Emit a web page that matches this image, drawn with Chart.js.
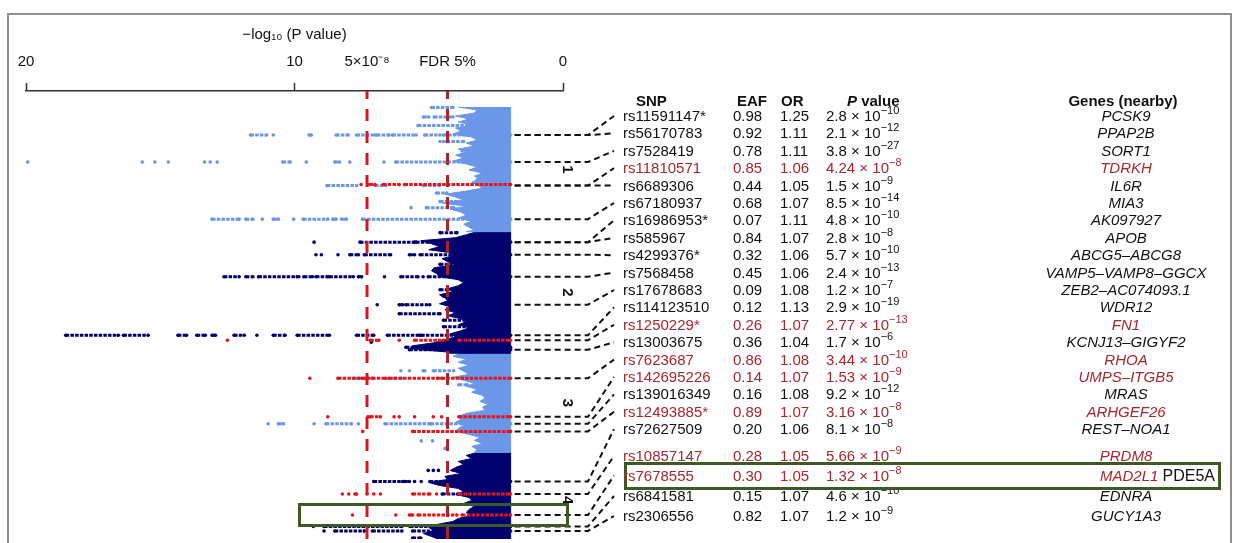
<!DOCTYPE html>
<html>
<head>
<meta charset="utf-8">
<script src="https://cdn.jsdelivr.net/npm/chart.js@4.4.1/dist/chart.umd.min.js"></script>
<style>
  html, body { margin: 0; padding: 0; background: #fff; }
  #wrap { position: relative; width: 1234px; height: 543px; overflow: hidden; font-family: "Liberation Sans", Arial, Helvetica, sans-serif; color: #111; }
  #frame { position: absolute; left: 7px; top: 13px; width: 1225px; height: 600px; border: 2px solid #8f8f8f; box-sizing: border-box; }
  #plot { position: absolute; left: 0; top: 0; }
  .cell { position: absolute; height: 18px; line-height: 18px; font-size: 15px; white-space: nowrap; }
  .head { font-weight: bold; }
  .gene { font-style: italic; text-align: center; width: 220px; }
  .novel { color: #a8282e; }
  sup { font-size: 11px; line-height: 0; position: relative; top: -1px; }
  .box { position: absolute; border: 3px solid #3d5a25; box-sizing: border-box; }
  #boxRight { background: #fff; z-index: 2; }
  .top { z-index: 3; }
</style>
</head>
<body>
<div id="wrap">
  <div id="frame"></div>
  <canvas id="plot" width="1234" height="543"></canvas>
  <div id="table"></div>
  <div class="box" id="boxLeft" style="left:298px; top:503px; width:271px; height:24px;"></div>
  <div class="box" id="boxRight" style="left:624px; top:462px; width:597px; height:28px;"></div>
</div>
<script>
// x axis: -log10(P), y axis: cumulative genome position (Mb)
const xTicks = [20, 10, 7.3, 4.3, 0];
const gwsLine = 7.3;   // 5x10-8
const fdrLine = 4.3;   // FDR 5%
const minLogP = 1.95;

const chromLabels = ["1", "2", "3", "4"];
const chromStart = [0, 249, 492, 690];
const chromEnd = [249, 492, 690, 881];

// ragged left edge of the dense cloud, [Mb, -log10 P]
const chr1Edge = [[0, 3.9], [6, 3.2], [12, 3.3], [18, 4.0], [24, 3.5], [30, 3.9], [36, 3.4], [42, 4.0], [48, 3.8], [54, 4.1],
  [60, 3.4], [66, 3.2], [72, 3.6], [78, 3.3], [84, 3.9], [90, 3.6], [96, 4.0], [102, 3.7], [108, 4.1], [114, 3.6],
  [120, 3.2], [126, 3.5], [132, 3.0], [138, 3.3], [144, 3.1], [150, 3.4], [156, 3.2], [162, 3.0], [168, 3.6], [174, 4.4],
  [180, 4.0], [186, 3.7], [192, 4.5], [198, 3.6], [204, 4.2], [210, 3.8], [216, 3.6], [222, 3.9], [228, 3.4], [234, 3.7],
  [240, 3.5], [246, 3.3], [249, 3.6]];
const chr2Edge = [[249, 3.2], [255, 3.6], [261, 4.0], [267, 5.3], [273, 4.9], [279, 4.6], [285, 5.0], [291, 4.2], [297, 4.1],
  [303, 4.5], [309, 4.3], [315, 4.0], [321, 4.8], [327, 4.9], [333, 4.7], [339, 4.6], [345, 3.9], [351, 3.7], [357, 3.9],
  [363, 4.3], [369, 4.1], [375, 4.6], [381, 4.4], [387, 4.3], [393, 4.6], [399, 4.2], [405, 4.4], [411, 4.0], [417, 4.3],
  [423, 3.8], [429, 3.6], [435, 3.9], [441, 3.5], [447, 3.8], [453, 4.2], [459, 4.0], [465, 4.4], [471, 4.8], [477, 5.6],
  [483, 5.7], [489, 4.4], [492, 4.2]];
const chr3Edge = [[492, 3.8], [498, 4.1], [504, 3.6], [510, 3.9], [516, 3.5], [522, 3.9], [528, 3.7], [534, 3.5], [540, 4.1],
  [546, 3.7], [552, 3.3], [558, 3.6], [564, 3.2], [570, 3.4], [576, 3.0], [582, 2.9], [588, 3.1], [594, 2.8], [600, 3.0],
  [606, 2.9], [612, 3.6], [618, 3.9], [624, 3.8], [630, 4.0], [636, 3.7], [642, 3.9], [648, 4.0], [654, 3.5], [660, 3.1],
  [666, 3.3], [672, 3.0], [678, 3.4], [684, 3.2], [690, 3.3]];
const chr4Edge = [[690, 3.2], [696, 3.6], [702, 3.4], [708, 3.9], [714, 3.7], [720, 4.0], [726, 4.2], [732, 3.8], [738, 4.4],
  [744, 4.3], [750, 5.0], [756, 4.6], [762, 3.9], [768, 3.7], [774, 4.0], [780, 3.5], [786, 3.4], [792, 3.7], [798, 3.3],
  [804, 3.5], [810, 3.6], [816, 3.4], [822, 3.9], [828, 4.1], [834, 4.7], [840, 5.0], [846, 4.8], [852, 5.2], [858, 4.9],
  [864, 4.6], [870, 4.5], [881, 4.4]];

// rows of SNPs leaving the cloud: [Mb, runs of -log10 P]
const lightStreaks = [
  [1, [[4.9, 4.1]]],
  [20, [[5.2, 5.0], [4.8, 4.1]]],
  [37, [[5.4, 2.9]]],
  [56, [[11.64, 11.04], [10.79], [9.46, 9.37], [8.45, 8.0], [7.69, 6.99], [6.93, 6.48], [6.35, 5.47], [5.15, 4.58], [4.45, 1.95]]],
  [69, [[4.58], [4.45], [4.33, 3.7]]],
  [88, [[3.76]]],
  [110, [[19.94], [15.67], [15.2], [14.7], [13.35], [13.14], [12.88], [10.44, 10.16], [9.56], [8.5, 8.32], [7.94], [6.67], [6.23, 1.95]]],
  [146, [[3.2, 2.8]]],
  [157, [[8.79, 7.68], [7.0, 6.6], [5.2, 4.6]]],
  [172, [[4.71, 4.33]]],
  [189, [[4.58, 3.82]]],
  [201, [[5.66], [5.09, 4.07]]],
  [224, [[13.07, 12.06], [11.81, 11.55], [11.2], [10.79, 10.6], [10.03], [9.68, 8.76], [8.57, 8.45], [8.25, 8.07], [7.47, 1.95]]],
  [527, [[6.04], [5.72], [5.21, 5.15], [4.83, 4.07]]],
  [542, [[7.8, 7.6], [6.3, 6.0]]],
  [555, [[3.88, 3.57]]],
  [633, [[10.98], [10.6, 10.41], [9.27], [8.83, 7.88], [7.62], [6.63, 4.96], [4.93, 1.95]]],
  [667, [[5.28], [4.86]]],
  [682, [[4.39]]]
];
const navyStreaks = [
  [251, [[4.58, 3.95]]],
  [270, [[9.27], [7.56, 5.53], [5.47, 1.95]]],
  [295, [[9.2], [9.0], [8.38], [7.94, 7.62], [7.4, 6.42], [5.72, 5.53], [5.32, 1.95]]],
  [314, [[4.58, 3.95]]],
  [339, [[12.63, 12.06], [11.81, 11.55], [11.34, 9.9], [9.84], [9.65, 9.33], [9.2, 8.76], [8.7, 7.81], [7.62, 7.5], [6.65], [6.04, 5.4], [5.21], [5.02, 1.95]]],
  [365, [[4.58, 3.7]]],
  [378, [[4.45, 3.3]]],
  [395, [[6.92], [6.1, 5.97], [5.85, 4.96]]],
  [413, [[6.1, 4.58]]],
  [426, [[4.45, 3.4]]],
  [439, [[4.45, 3.19]]],
  [456, [[18.52, 16.56], [16.37, 15.45], [14.34, 14.02], [13.64, 13.32], [13.07, 12.94], [12.25, 11.87], [11.4], [10.79, 10.35], [9.9, 8.7], [7.69, 7.05], [6.54, 5.34], [5.28, 1.95]]],
  [470, [[7.14]]],
  [480, [[5.85, 1.95]]],
  [485, [[5.72, 1.95]]],
  [726, [[5.02], [4.83], [4.64], [4.07, 3.95]]],
  [748, [[7.05, 5.97], [5.91, 5.72], [5.53], [5.28], [4.96, 1.95]]],
  [773, [[4.5, 3.9]]],
  [838, [[9.3], [8.9, 6.0], [5.7, 1.95]]],
  [847, [[8.9], [8.5, 7.4], [7.1, 6.0], [5.6, 1.95]]],
  [861, [[5.6, 5.3], [4.6, 3.3]]]
];
const redStreaks = [
  [155, [[7.52], [7.2, 7.0], [6.7, 6.1], [5.9, 1.95]]],
  [466, [[12.5], [7.18, 6.86], [6.1], [5.53, 4.45], [3.88, 1.95]]],
  [542, [[9.43], [8.38, 7.49], [7.43, 7.24], [7.11, 6.6], [6.48, 4.64], [4.52, 1.95]]],
  [619, [[8.76], [7.27], [7.18, 6.8], [6.29], [6.1], [5.53], [4.83], [4.52], [3.88, 1.95]]],
  [648, [[7.46], [5.6, 1.95]]],
  [773, [[8.22], [7.98], [7.75, 7.69], [7.3], [7.05], [6.8], [5.6, 4.96], [4.71], [3.88, 1.95]]],
  [815, [[7.84], [6.23], [5.72, 5.6], [5.4, 3.95], [3.76, 1.95]]]
];

// table
const snpIds = ["rs11591147*", "rs56170783", "rs7528419", "rs11810571", "rs6689306", "rs67180937", "rs16986953*", "rs585967",
  "rs4299376*", "rs7568458", "rs17678683", "rs114123510", "rs1250229*", "rs13003675", "rs7623687", "rs142695226",
  "rs139016349", "rs12493885*", "rs72627509", "rs10857147", "rs7678555", "rs6841581", "rs2306556"];
const eafValues = ["0.98", "0.92", "0.78", "0.85", "0.44", "0.68", "0.07", "0.84", "0.32", "0.45", "0.09", "0.12", "0.26",
  "0.36", "0.86", "0.14", "0.16", "0.89", "0.20", "0.28", "0.30", "0.15", "0.82"];
const orValues = ["1.25", "1.11", "1.11", "1.06", "1.05", "1.07", "1.11", "1.07", "1.06", "1.06", "1.08", "1.13", "1.07",
  "1.04", "1.08", "1.07", "1.08", "1.07", "1.06", "1.05", "1.05", "1.07", "1.07"];
const pMantissa = ["2.8", "2.1", "3.8", "4.24", "1.5", "8.5", "4.8", "2.8", "5.7", "2.4", "1.2", "2.9", "2.77", "1.7",
  "3.44", "1.53", "9.2", "3.16", "8.1", "5.66", "1.32", "4.6", "1.2"];
const pExponent = [-10, -12, -27, -8, -9, -14, -10, -8, -10, -13, -7, -19, -13, -6, -10, -9, -12, -8, -8, -9, -8, -10, -9];
const geneNames = ["PCSK9", "PPAP2B", "SORT1", "TDRKH", "IL6R", "MIA3", "AK097927", "APOB", "ABCG5–ABCG8",
  "VAMP5–VAMP8–GGCX", "ZEB2–AC074093.1", "WDR12", "FN1", "KCNJ13–GIGYF2", "RHOA", "UMPS–ITGB5", "MRAS", "ARHGEF26",
  "REST–NOA1", "PRDM8", "MAD2L1", "EDNRA", "GUCY1A3"];
const novelLocus = [0, 0, 0, 1, 0, 0, 0, 0, 0, 0, 0, 0, 1, 0, 1, 1, 0, 1, 0, 1, 1, 0, 0];
const locusMb = [56, 56, 110, 157, 157, 224, 270, 270, 295, 339, 395, 456, 466, 485, 542, 619, 633, 648, 748, 773, 815, 838, 847];
const boxedRow = 20;

const LIGHT = "#6b97e8";
const NAVY = "#00006e";
const RED = "#e6141b";
const FONT = "'Liberation Sans', Arial, sans-serif";

function rowCenter(i) {
  if (i < 19) return 116 + i * 17.4;
  return [456, 475.5, 496, 516][i - 19];
}

function edgePolygon(edge) {
  const pts = edge.map(([mb, v]) => ({ x: v, y: mb }));
  pts.push({ x: minLogP, y: edge[edge.length - 1][0] });
  pts.push({ x: minLogP, y: edge[0][0] });
  return pts;
}

function streakPoints(streaks) {
  const pts = [];
  streaks.forEach(([mb, runs]) => {
    runs.forEach((run) => {
      run.forEach((v) => pts.push({ x: v, y: mb }));
      pts.push({ x: null, y: null });
    });
  });
  return pts;
}

function blobDataset(edge, color) {
  return {
    data: edgePolygon(edge),
    borderColor: color,
    backgroundColor: color,
    borderWidth: 1,
    pointRadius: 0,
    fill: "shape",
    tension: 0,
    order: 4
  };
}

function streakDataset(streaks, color, order) {
  return {
    data: streakPoints(streaks),
    borderColor: color,
    backgroundColor: color,
    borderWidth: 3,
    borderDash: [3.5, 1.2],
    pointRadius: 1.8,
    pointBorderWidth: 0,
    pointBackgroundColor: color,
    spanGaps: false,
    fill: false,
    order
  };
}

function thresholdDataset(value, color) {
  return {
    data: [{ x: value, y: -40 }, { x: value, y: 900 }],
    borderColor: color,
    borderWidth: 3,
    borderDash: [12, 10],
    pointRadius: 0,
    fill: false,
    order: 0
  };
}

const connectorPlugin = {
  id: "connectors",
  afterDraw(chart) {
    const { ctx, scales: { x, y } } = chart;
    const x0 = x.getPixelForValue(minLogP) + 4;
    ctx.save();
    ctx.strokeStyle = "#111";
    ctx.lineWidth = 2;
    ctx.setLineDash([6, 4]);
    locusMb.forEach((mb, i) => {
      const py = y.getPixelForValue(mb);
      ctx.beginPath();
      ctx.moveTo(x0, py);
      ctx.lineTo(588, py);
      ctx.lineTo(614, rowCenter(i));
      ctx.stroke();
    });
    ctx.setLineDash([]);
    ctx.fillStyle = "#111";
    ctx.font = "bold 15px " + FONT;
    ctx.textAlign = "center";
    ctx.textBaseline = "middle";
    chromLabels.forEach((label, i) => {
      const my = y.getPixelForValue((chromStart[i] + chromEnd[i]) / 2);
      ctx.save();
      ctx.translate(567, my);
      ctx.rotate(Math.PI / 2);
      ctx.fillText(label, 0, 0);
      ctx.restore();
    });
    ctx.restore();
  }
};

new Chart(document.getElementById("plot"), {
  type: "scatter",
  data: {
    datasets: [
      thresholdDataset(gwsLine, "#d8181f"),
      thresholdDataset(fdrLine, "#a8262b"),
      streakDataset(redStreaks, RED, 1),
      streakDataset(lightStreaks, LIGHT, 2),
      streakDataset(navyStreaks, NAVY, 2),
      blobDataset(chr1Edge, LIGHT),
      blobDataset(chr2Edge, NAVY),
      blobDataset(chr3Edge, LIGHT),
      blobDataset(chr4Edge, NAVY)
    ].map((ds) => ({ ...ds, showLine: true }))
  },
  options: {
    responsive: false,
    animation: false,
    events: [],
    layout: { padding: { left: 26, right: 671, top: 23, bottom: 0 } },
    plugins: { legend: { display: false }, tooltip: { enabled: false } },
    scales: {
      x: {
        type: "linear",
        position: "top",
        reverse: true,
        min: 0,
        max: 20,
        afterBuildTicks: (axis) => {
          axis.ticks = xTicks.map((value) => ({ value }));
        },
        ticks: {
          autoSkip: false,
          maxRotation: 0,
          padding: 12,
          color: "#111",
          font: { family: FONT, size: 15 },
          callback: (value) => {
            if (value === gwsLine) return "5×10⁻⁸";
            if (value === fdrLine) return "FDR 5%";
            return String(value);
          }
        },
        grid: {
          drawOnChartArea: false,
          drawTicks: true,
          tickLength: 8,
          tickWidth: 1.5,
          tickColor: (ctx) => ([20, 10, 0].includes(ctx.tick && ctx.tick.value) ? "#333" : "rgba(0,0,0,0)")
        },
        border: { display: true, color: "#333", width: 1.5 },
        title: {
          display: true,
          text: "−log₁₀ (P value)",
          color: "#111",
          font: { family: FONT, size: 15, lineHeight: 0.8 },
          padding: { top: 6, bottom: 0 }
        }
      },
      y: {
        type: "linear",
        display: false,
        reverse: true,
        min: -32,
        max: 863
      }
    }
  },
  plugins: [connectorPlugin]
});

// table beside the plot
const table = document.getElementById("table");

function addCell(html, left, center, cls, extraStyle) {
  const el = document.createElement("div");
  el.className = "cell " + (cls || "");
  el.innerHTML = html;
  el.style.left = left + "px";
  el.style.top = (center - 9) + "px";
  if (extraStyle) el.setAttribute("style", el.getAttribute("style") + extraStyle);
  table.appendChild(el);
  return el;
}

addCell("SNP", 636, 101, "head");
addCell("EAF", 737, 101, "head");
addCell("OR", 781, 101, "head");
addCell("<i>P</i> value", 847, 101, "head");
addCell("Genes (nearby)", 1013, 101, "head gene", "font-style:normal;");

snpIds.forEach((snp, i) => {
  const cy = rowCenter(i);
  const cls = (novelLocus[i] ? "novel" : "") + (i === boxedRow ? " top" : "");
  addCell(snp, 623, cy, cls);
  addCell(eafValues[i], 733, cy, cls);
  addCell(orValues[i], 780, cy, cls);
  addCell(pMantissa[i] + " × 10<sup>−" + Math.abs(pExponent[i]) + "</sup>", 826, cy, cls);
  if (i === boxedRow) {
    addCell("<i>" + geneNames[i] + "</i> <span style=\"color:#111;font-size:16px;\">PDE5A</span>", 1015, cy, cls,
      "width:200px;text-align:right;");
  } else {
    addCell(geneNames[i], 1016, cy, cls + " gene");
  }
});
</script>
</body>
</html>
